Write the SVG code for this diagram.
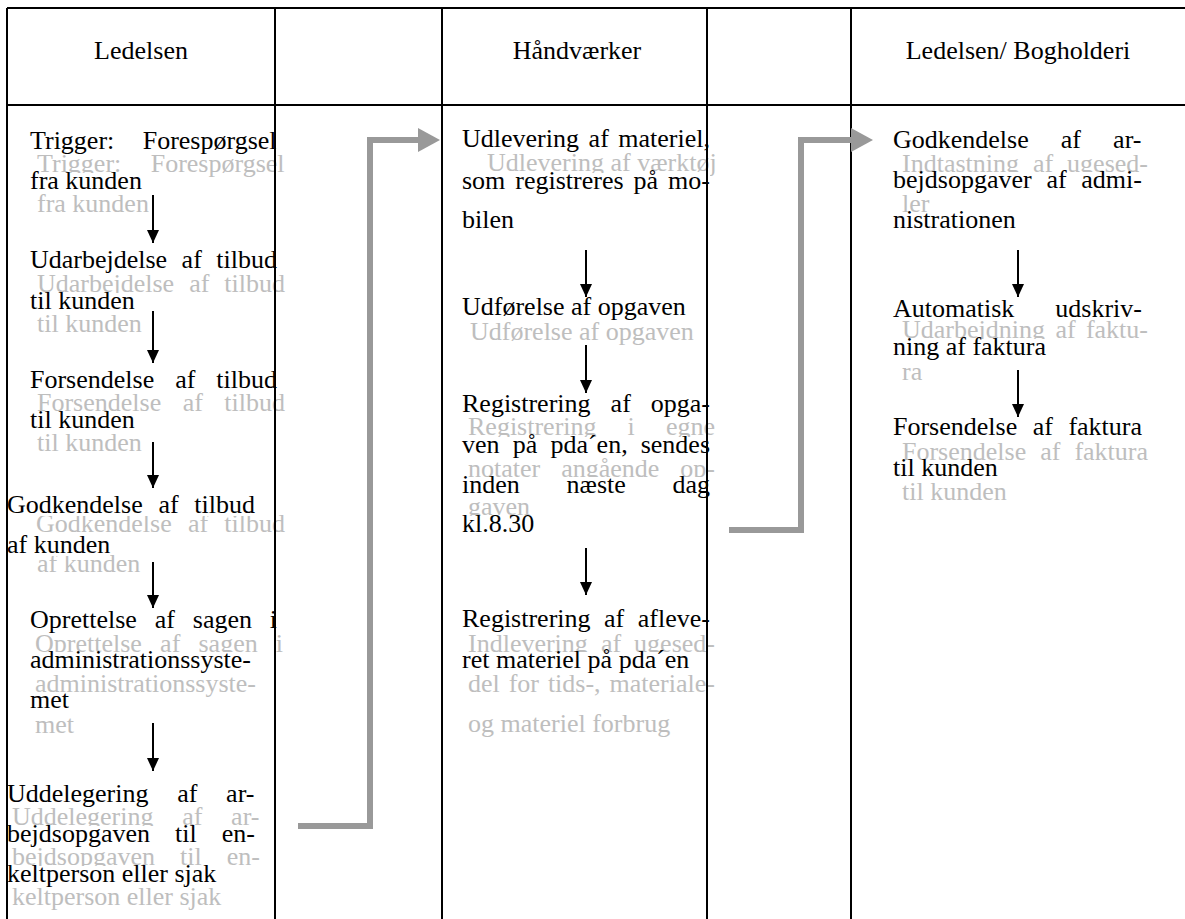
<svg xmlns="http://www.w3.org/2000/svg" width="1185" height="919" viewBox="0 0 1185 919">
<defs>
<style>
.t{font-family:"Liberation Serif","Times New Roman",serif;font-size:26px;fill:#000}
.g{fill:#bebebe}
.h{text-anchor:middle}
.bg{fill:#fff}
.grid{stroke:#000;stroke-width:2;fill:none}
.arr{stroke:#000;stroke-width:2;fill:none;marker-end:url(#ah)}
.flow{stroke:#999;stroke-width:6;fill:none;stroke-linejoin:miter;marker-end:url(#gh)}
</style>
<marker id="ah" markerUnits="userSpaceOnUse" markerWidth="13" markerHeight="12" viewBox="0 0 13 12" refX="13" refY="6" orient="auto"><path d="M0,0L13,6L0,12Z" fill="#000"/></marker>
<marker id="gh" markerUnits="userSpaceOnUse" markerWidth="22" markerHeight="24" viewBox="0 0 22 24" refX="0" refY="12" orient="auto"><path d="M0,0L22,12L0,24Z" fill="#999"/></marker>
</defs>
<rect width="1185" height="919" fill="#fff"/>

<g id="header-ledelsen"><text class="t h" x="141" y="59">Ledelsen</text></g>
<g id="header-haandvaerker"><text class="t h" x="577" y="59">Håndværker</text></g>
<g id="header-bogholderi"><text class="t h" x="1018" y="59">Ledelsen/ Bogholderi</text></g>

<g id="step-trigger">
<text class="t g" y="172"><tspan x="37">Trigger: </tspan><tspan x="150.7">Forespørgsel</tspan></text>
<text class="t g" x="37" y="212">fra kunden</text>
<rect class="bg" x="30" y="133" width="247" height="19"/><rect class="bg" x="30" y="173" width="112" height="19"/>
<text class="t" y="149"><tspan x="30">Trigger: </tspan><tspan x="142.7">Forespørgsel</tspan></text>
<text class="t" x="30" y="189">fra kunden</text>
</g>

<g id="step-udarbejdelse">
<text class="t g" y="292"><tspan x="37">Udarbejdelse </tspan><tspan x="189.2">af </tspan><tspan x="224.3">tilbud</tspan></text>
<text class="t g" x="37" y="332">til kunden</text>
<rect class="bg" x="30" y="252" width="247" height="19"/><rect class="bg" x="30" y="293" width="105" height="19"/>
<text class="t" y="268"><tspan x="30">Udarbejdelse </tspan><tspan x="181.6">af </tspan><tspan x="216.3">tilbud</tspan></text>
<text class="t" x="30" y="309">til kunden</text>
</g>

<g id="step-forsendelse-tilbud">
<text class="t g" y="411"><tspan x="37">Forsendelse </tspan><tspan x="182.7">af </tspan><tspan x="224.3">tilbud</tspan></text>
<text class="t g" x="37" y="451">til kunden</text>
<rect class="bg" x="30" y="372" width="247" height="19"/><rect class="bg" x="30" y="412" width="105" height="19"/>
<text class="t" y="388"><tspan x="30">Forsendelse </tspan><tspan x="175.2">af </tspan><tspan x="216.3">tilbud</tspan></text>
<text class="t" x="30" y="428">til kunden</text>
</g>

<g id="step-godkendelse-tilbud">
<text class="t g" y="532"><tspan x="36">Godkendelse </tspan><tspan x="187.9">af </tspan><tspan x="224.3">tilbud</tspan></text>
<text class="t g" x="37" y="572">af kunden</text>
<rect class="bg" x="7" y="497" width="248" height="19"/><rect class="bg" x="7" y="537" width="103" height="19"/>
<text class="t" y="513"><tspan x="7">Godkendelse </tspan><tspan x="158.4">af </tspan><tspan x="194.3">tilbud</tspan></text>
<text class="t" x="7" y="553">af kunden</text>
</g>

<g id="step-oprettelse">
<text class="t g" y="652"><tspan x="35">Oprettelse </tspan><tspan x="160.1">af </tspan><tspan x="198.5">sagen </tspan><tspan x="275.8">i</tspan></text>
<text class="t g" x="35" y="692">administrationssyste-</text>
<text class="t g" x="35" y="733">met</text>
<rect class="bg" x="30" y="612" width="247" height="19"/><rect class="bg" x="30" y="652" width="221" height="19"/><rect class="bg" x="30" y="692" width="39" height="19"/>
<text class="t" y="628"><tspan x="30">Oprettelse </tspan><tspan x="154.7">af </tspan><tspan x="192.8">sagen </tspan><tspan x="269.8">i</tspan></text>
<text class="t" x="30" y="668">administrationssyste-</text>
<text class="t" x="30" y="708">met</text>
</g>

<g id="step-uddelegering">
<text class="t g" y="825"><tspan x="12">Uddelegering </tspan><tspan x="182.2">af </tspan><tspan x="231.1">ar-</tspan></text>
<text class="t g" y="865"><tspan x="12">bejdsopgaven </tspan><tspan x="180">til </tspan><tspan x="226.8">en-</tspan></text>
<text class="t g" x="12" y="905">keltperson eller sjak</text>
<rect class="bg" x="7" y="786" width="248" height="19"/><rect class="bg" x="7" y="826" width="248" height="19"/><rect class="bg" x="7" y="866" width="210" height="19"/>
<text class="t" y="802"><tspan x="7">Uddelegering </tspan><tspan x="177.2">af </tspan><tspan x="226.1">ar-</tspan></text>
<text class="t" y="842"><tspan x="7">bejdsopgaven </tspan><tspan x="175">til </tspan><tspan x="221.8">en-</tspan></text>
<text class="t" x="7" y="882">keltperson eller sjak</text>
</g>

<g id="step-udlevering">
<text class="t g" x="487" y="171">Udlevering af værktøj</text>
<rect class="bg" x="462" y="131" width="248" height="19"/><rect class="bg" x="462" y="173" width="248" height="19"/><rect class="bg" x="462" y="212" width="52" height="19"/>
<text class="t" y="147"><tspan x="462">Udlevering </tspan><tspan x="588.6">af </tspan><tspan x="618.3">materiel,</tspan></text>
<text class="t" y="189"><tspan x="462">som </tspan><tspan x="515.3">registreres </tspan><tspan x="633.6">på </tspan><tspan x="668.1">mo-</tspan></text>
<text class="t" x="462" y="228">bilen</text>
</g>

<g id="step-udfoerelse">
<text class="t g" x="470" y="340">Udførelse af opgaven</text>
<rect class="bg" x="462" y="299" width="224" height="19"/>
<text class="t" x="462" y="315">Udførelse af opgaven</text>
</g>

<g id="step-registrering-opgave">
<text class="t g" y="435"><tspan x="468">Registrering </tspan><tspan x="627.6">i </tspan><tspan x="665.9">egne</tspan></text>
<text class="t g" y="477"><tspan x="468">notater </tspan><tspan x="561.2">angående </tspan><tspan x="680.3">op-</tspan></text>
<text class="t g" x="468" y="515">gaven</text>
<rect class="bg" x="462" y="396" width="248" height="19"/><rect class="bg" x="462" y="437" width="248" height="19"/><rect class="bg" x="462" y="477" width="248" height="19"/><rect class="bg" x="462" y="516" width="72" height="19"/>
<text class="t" y="412"><tspan x="462">Registrering </tspan><tspan x="610.6">af </tspan><tspan x="650.8">opga-</tspan></text>
<text class="t" y="453"><tspan x="462">ven </tspan><tspan x="512.7">på </tspan><tspan x="550.4">pda´en, </tspan><tspan x="640.7">sendes</tspan></text>
<text class="t" y="493"><tspan x="462">inden </tspan><tspan x="566.6">næste </tspan><tspan x="672.5">dag</tspan></text>
<text class="t" x="462" y="532">kl.8.30</text>
</g>

<g id="step-registrering-materiel">
<text class="t g" y="652"><tspan x="468">Indlevering </tspan><tspan x="600.9">af </tspan><tspan x="634.1">ugesed-</tspan></text>
<text class="t g" y="692"><tspan x="468">del </tspan><tspan x="508.7">for </tspan><tspan x="547.9">tids-, </tspan><tspan x="609.6">materiale-</tspan></text>
<text class="t g" x="468" y="732">og materiel forbrug</text>
<rect class="bg" x="462" y="611" width="248" height="19"/><rect class="bg" x="462" y="652" width="228" height="19"/>
<text class="t" y="627"><tspan x="462">Registrering </tspan><tspan x="604">af </tspan><tspan x="637.8">afleve-</tspan></text>
<text class="t" x="462" y="668">ret materiel på pda´en</text>
</g>

<g id="step-godkendelse-arbejde">
<text class="t g" y="172"><tspan x="902">Indtastning </tspan><tspan x="1033">af </tspan><tspan x="1067.1">ugesed-</tspan></text>
<text class="t g" x="902" y="212">ler</text>
<rect class="bg" x="893" y="132" width="249" height="19"/><rect class="bg" x="893" y="172" width="249" height="19"/><rect class="bg" x="893" y="212" width="123" height="19"/>
<text class="t" y="148"><tspan x="893">Godkendelse </tspan><tspan x="1060.8">af </tspan><tspan x="1113.1">ar-</tspan></text>
<text class="t" y="188"><tspan x="893">bejdsopgaver </tspan><tspan x="1046.4">af </tspan><tspan x="1081.3">admi-</tspan></text>
<text class="t" x="893" y="228">nistrationen</text>
</g>

<g id="step-udskrivning">
<text class="t g" y="338"><tspan x="902">Udarbejdning </tspan><tspan x="1055.4">af </tspan><tspan x="1085.9">faktu-</tspan></text>
<text class="t g" x="902" y="380">ra</text>
<rect class="bg" x="893" y="301" width="249" height="19"/><rect class="bg" x="893" y="339" width="153" height="19"/>
<text class="t" y="317"><tspan x="893">Automatisk </tspan><tspan x="1055.3">udskriv-</tspan></text>
<text class="t" x="893" y="355">ning af faktura</text>
</g>

<g id="step-forsendelse-faktura">
<text class="t g" y="460"><tspan x="902">Forsendelse </tspan><tspan x="1040.2">af </tspan><tspan x="1074.4">faktura</tspan></text>
<text class="t g" x="902" y="500">til kunden</text>
<rect class="bg" x="893" y="419" width="249" height="19"/><rect class="bg" x="893" y="460" width="105" height="19"/>
<text class="t" y="435"><tspan x="893">Forsendelse </tspan><tspan x="1032.7">af </tspan><tspan x="1068.4">faktura</tspan></text>
<text class="t" x="893" y="476">til kunden</text>
</g>

<g id="grid">
<path class="grid" d="M7,8H1185M7,105H1185M7,8V919M275,8V919M442,8V919M707,8V919M851,8V919"/>
</g>

<g id="connectors">
<path class="arr" d="M153,195V243"/>
<path class="arr" d="M153,311V363"/>
<path class="arr" d="M153,442V488"/>
<path class="arr" d="M153,562V608"/>
<path class="arr" d="M153,723V771"/>
<path class="arr" d="M586,250V297"/>
<path class="arr" d="M586,345V393"/>
<path class="arr" d="M586,548V595"/>
<path class="arr" d="M1018,250V297"/>
<path class="arr" d="M1018,370V417"/>
<path class="flow" d="M298,826H370V140H418"/>
<path class="flow" d="M729,530H801V140H851"/>
</g>
</svg>
